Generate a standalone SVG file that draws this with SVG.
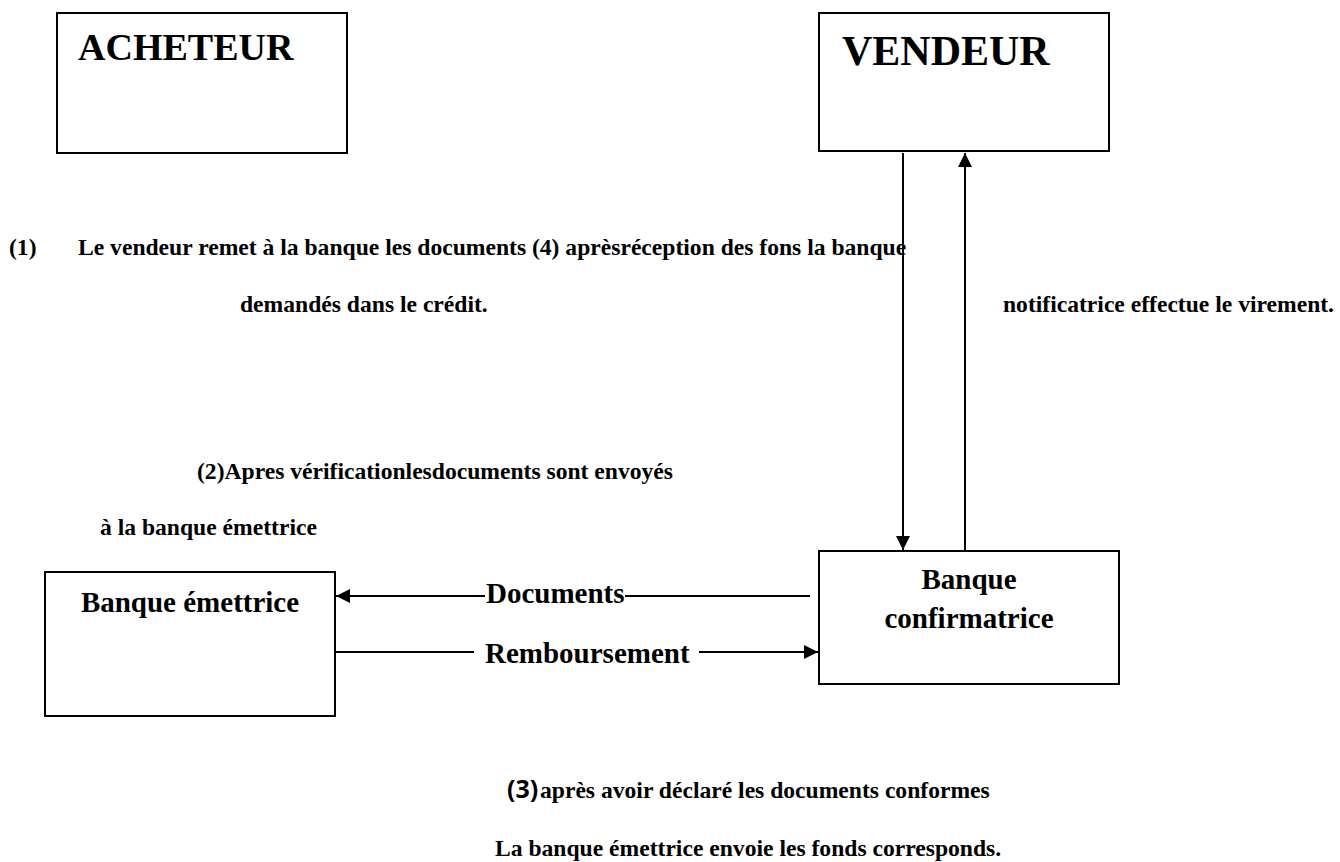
<svg xmlns="http://www.w3.org/2000/svg" width="1340" height="862" viewBox="0 0 1340 862">
  <style>
    .box { fill: #ffffff; stroke: #000000; stroke-width: 2; }
    .t { font-family: "Liberation Serif", "Times New Roman", serif; font-weight: bold; fill: #000000; }
    .title { font-size: 38px; }
    .label { font-size: 29px; }
    .body { font-size: 23.6px; }
    .num { font-family: "Open Sans", "Noto Sans", sans-serif; font-weight: bold; font-size: 25px; fill: #000000; }
    .wire { fill: none; stroke: #000000; stroke-width: 2; }
  </style>
  <defs>
    <marker id="head" markerUnits="userSpaceOnUse" markerWidth="14" markerHeight="14" refX="14" refY="7" orient="auto">
      <path d="M0,0 L14,7 L0,14 z" fill="#000000"/>
    </marker>
  </defs>

  <rect width="1340" height="862" fill="#ffffff"/>

  <!-- parties -->
  <g id="acheteur">
    <rect class="box" x="57" y="13" width="290" height="140"/>
    <text class="t title" x="78" y="60">ACHETEUR</text>
  </g>

  <g id="vendeur">
    <rect class="box" x="819" y="13" width="290" height="138"/>
    <text class="t title" x="842" y="65" style="font-size:42px">VENDEUR</text>
  </g>

  <g id="banque-emettrice">
    <rect class="box" x="45" y="572" width="290" height="144"/>
    <text class="t label" x="190" y="612" text-anchor="middle">Banque émettrice</text>
  </g>

  <g id="banque-confirmatrice">
    <rect class="box" x="819" y="551" width="300" height="133"/>
    <text class="t label" x="969" y="589" text-anchor="middle">Banque</text>
    <text class="t label" x="969" y="628" text-anchor="middle">confirmatrice</text>
  </g>

  <!-- flows between the parties -->
  <g id="connectors">
    <path class="wire" d="M903,153 V550" marker-end="url(#head)"/>
    <path class="wire" d="M965,551 V153" marker-end="url(#head)"/>
    <path class="wire" d="M810,596 H625 M485,596 H336" marker-end="url(#head)"/>
    <path class="wire" d="M336,652 H474 M699,652 H818" marker-end="url(#head)"/>
    <text class="t label" x="486" y="603">Documents</text>
    <text class="t label" x="485" y="663">Remboursement</text>
  </g>

  <!-- step descriptions -->
  <g id="notes">
    <text class="t body" x="9" y="255">(1)</text>
    <text class="t body" x="78" y="255">Le vendeur remet à la banque les documents (4) aprèsréception des fons la banque</text>
    <text class="t body" x="240" y="312">demandés dans le crédit.</text>
    <text class="t body" x="1003" y="312">notificatrice effectue le virement.</text>
    <text class="t body" x="197" y="479">(2)Apres vérificationlesdocuments sont envoyés</text>
    <text class="t body" x="100" y="535">à la banque émettrice</text>
    <text class="num" x="507" y="798">(3)</text>
    <text class="t body" x="540" y="798">après avoir déclaré les documents conformes</text>
    <text class="t body" x="495" y="856">La banque émettrice envoie les fonds corresponds.</text>
  </g>
</svg>
